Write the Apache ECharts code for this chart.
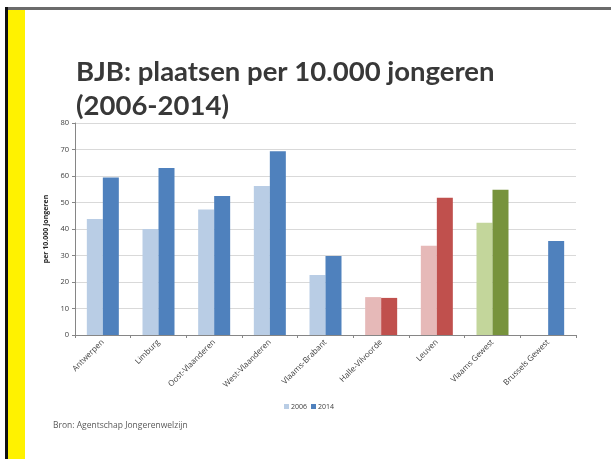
<!DOCTYPE html>
<html>
<head>
<meta charset="utf-8">
<title>BJB: plaatsen per 10.000 jongeren</title>
<style>
  html, body { margin: 0; padding: 0; background: #fff; }
  #chart { width: 611px; height: 459px; }
</style>
<script src="https://cdn.jsdelivr.net/npm/echarts@6/dist/echarts.min.js"></script>
</head>
<body>
<div id="chart"></div>
<script>
// data
var categories = ['Antwerpen', 'Limburg', 'Oost-Vlaanderen', 'West-Vlaanderen', 'Vlaams-Brabant',
                  'Halle-Vilvoorde', 'Leuven', 'Vlaams Gewest', 'Brussels Gewest'];
var years = ['2006', '2014'];
var values2006 = [43.8, 40.0, 47.4, 56.2, 22.6, 14.3, 33.7, 42.4, null];
var values2014 = [59.4, 63.0, 52.5, 69.3, 29.8, 14.0, 51.8, 54.8, 35.5];
var yTicks = [0, 10, 20, 30, 40, 50, 60, 70, 80];

// colour group per category (blue = provinces, red = Vlaams-Brabant split, green = region)
var groups = ['blue', 'blue', 'blue', 'blue', 'blue', 'red', 'red', 'green', 'blue'];
var palette = {
    blue:  ['#B9CDE5', '#4F81BD'],
    red:   ['#E6B9B8', '#C0504D'],
    green: ['#C3D69B', '#77933C']
};

var dom = document.getElementById('chart');
var myChart = echarts.init(dom);

function seriesData(vals, k) {
    return vals.map(function (v, i) {
        return { value: v, itemStyle: { color: palette[groups[i]][k] } };
    });
}

var option = {
    backgroundColor: '#fff',
    animation: false,
    title: {
        text: 'BJB: plaatsen per 10.000 jongeren\n(2006-2014)',
        left: 71,
        top: 50,
        textStyle: {
            fontFamily: 'Lato',
            fontWeight: 'bold',
            fontSize: 27.5,
            lineHeight: 34,
            color: '#383838'
        }
    },
    legend: {
        data: [
            { name: years[0], itemStyle: { color: palette.blue[0] } },
            { name: years[1], itemStyle: { color: palette.blue[1] } }
        ],
        left: 279,
        top: 398,
        itemWidth: 5,
        itemHeight: 5,
        itemGap: 4,
        icon: 'rect',
        textStyle: { fontFamily: 'Open Sans', fontSize: 7, color: '#404040', padding: [0, 0, 0, -3] }
    },
    grid: {
        left: 75,
        right: 35,
        top: 123,
        bottom: 124,
        containLabel: false
    },
    xAxis: {
        type: 'category',
        data: categories,
        axisLine: { lineStyle: { color: '#868686', width: 1 } },
        axisTick: { show: true, length: 3, lineStyle: { color: '#868686' } },
        axisLabel: {
            interval: 0,
            rotate: 45,
            margin: 6,
            fontFamily: 'Open Sans',
            fontSize: 8,
            color: '#404040'
        }
    },
    yAxis: {
        type: 'value',
        min: yTicks[0],
        max: yTicks[yTicks.length - 1],
        interval: 10,
        name: 'per 10.000 jongeren',
        nameLocation: 'middle',
        nameGap: 22,
        nameTextStyle: {
            fontFamily: 'Open Sans',
            fontWeight: 'bold',
            fontSize: 7,
            color: '#262626'
        },
        axisLine: { show: true, lineStyle: { color: '#868686' } },
        axisTick: { show: true, length: 3, lineStyle: { color: '#868686' } },
        axisLabel: { fontFamily: 'Open Sans', fontSize: 7.5, color: '#404040', margin: 6 },
        splitLine: { lineStyle: { color: '#D9D9D9', width: 1 } }
    },
    series: [
        {
            name: years[0],
            type: 'bar',
            barWidth: 16,
            barGap: '0%',
            data: seriesData(values2006, 0)
        },
        {
            name: years[1],
            type: 'bar',
            barWidth: 16,
            barGap: '0%',
            data: seriesData(values2014, 1)
        }
    ],
    graphic: [
        // slide frame: top rule, black left edge, yellow band
        { type: 'rect', shape: { x: 5, y: 7, width: 606, height: 3 }, style: { fill: '#6b6b6b' }, silent: true },
        { type: 'rect', shape: { x: 5, y: 7, width: 3, height: 452 }, style: { fill: '#111' }, silent: true },
        { type: 'rect', shape: { x: 8, y: 10, width: 17, height: 449 }, style: { fill: '#FFF200' }, silent: true },
        {
            type: 'text',
            left: 53,
            top: 421,
            style: {
                text: 'Bron: Agentschap Jongerenwelzijn',
                font: '8.5px "Open Sans"',
                fill: '#595959'
            }
        }
    ]
};

myChart.setOption(option, true);
</script>
</body>
</html>
